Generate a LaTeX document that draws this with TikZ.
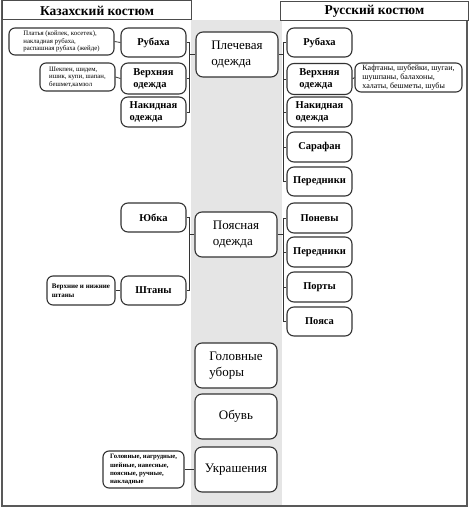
\documentclass[tikz,border=0pt]{standalone}
\usepackage{fontspec}
\setmainfont{Liberation Serif}
\begin{document}
\begin{tikzpicture}[x=1pt,y=-1pt,
  frameline/.style={draw=black!65, line width=1.6pt},
  headbox/.style={draw=black!70, line width=1pt, fill=white},
  headtext/.style={font=\fontsize{13.5}{15}\selectfont\bfseries},
  box/.style={draw=black!80, line width=1.1pt, rounded corners=7pt, fill=white, align=left, inner sep=0pt},
  mainbox/.style={box, minimum width=82pt, minimum height=45pt, font=\fontsize{13}{16}\selectfont},
  subbox/.style={box, minimum width=65pt, font=\fontsize{10.5}{12}\selectfont\bfseries},
  descbox/.style={box, rounded corners=6pt},
  link/.style={draw=black!80, line width=0.8pt}
]
\useasboundingbox (0,0) rectangle (470,508);
% gray band
\fill[black!10] (191,20) rectangle (282,505);
% frame
\draw[frameline] (2,0) -- (2,506) -- (467,506) -- (467,20);
\node[headbox, minimum width=189pt, minimum height=19pt, anchor=north west, inner sep=0pt] (hk) at (2,0.5) {};
\node[headtext] (hkt) at (hk.center) {Казахский костюм};
\node[headbox, minimum width=188pt, minimum height=19pt, anchor=north west, inner sep=0pt] (hr) at (280,1) {};
\node[headtext] (hrt) at (hr.center) {Русский костюм};

% centre column
\node[mainbox] (cPl) at (237,54.5) {Плечевая\\одежда};
\node[mainbox] (cPo) at (236,234.5) {Поясная\\одежда};
\node[mainbox] (cGol) at (236,365.5) {Головные\\уборы};
\node[mainbox] (cOb) at (236,416.5) {Обувь};
\node[mainbox] (cUk) at (236,469.5) {Украшения};

% Kazakh side
\node[subbox, minimum height=29pt] (kRub) at (153.5,42.5) {Рубаха};
\node[subbox, minimum height=31pt] (kVerh) at (153.5,78.5) {Верхняя\\одежда};
\node[subbox, minimum height=30pt] (kNak) at (153.5,112) {Накидная\\одежда};
\node[subbox, minimum height=29pt] (kYub) at (153.5,217.5) {Юбка};
\node[subbox, minimum height=29pt] (kSht) at (153.5,290.5) {Штаны};

\node[descbox, minimum width=105pt, minimum height=27pt, font=\fontsize{6.8}{7.6}\selectfont] (dRub) at (61.5,41.5)
  {Платья (койлек, косетек),\\накладная рубаха,\\распашная рубаха (жейде)};
\node[descbox, minimum width=75pt, minimum height=28pt, font=\fontsize{6.8}{7.6}\selectfont] (dVerh) at (77.5,77)
  {Шекпен, шидем,\\ишик, купи, шапан,\\бешмет,камзол};
\node[descbox, minimum width=68pt, minimum height=29pt, font=\fontsize{7}{9}\selectfont\bfseries] (dSht) at (81,290.5)
  {Верхние и нижние\\штаны};
\node[descbox, minimum width=81pt, minimum height=37pt, font=\fontsize{6.7}{8.2}\selectfont\bfseries] (dUk) at (143.5,469.5)
  {Головные, нагрудные,\\шейные, навесные,\\поясные, ручные,\\накладные};

% Russian side
\node[subbox, minimum height=29pt] (rRub) at (319.5,42.5) {Рубаха};
\node[subbox, minimum height=31pt] (rVerh) at (319.5,79) {Верхняя\\одежда};
\node[subbox, minimum height=30pt] (rNak) at (319.5,112) {Накидная\\одежда};
\node[subbox, minimum height=30pt] (rSar) at (319.5,147) {Сарафан};
\node[subbox, minimum height=29pt] (rPer) at (319.5,181.5) {Передники};
\node[subbox, minimum height=30pt] (rPon) at (319.5,218) {Поневы};
\node[subbox, minimum height=30pt] (rPer2) at (319.5,252) {Передники};
\node[subbox, minimum height=30pt] (rPort) at (319.5,287) {Порты};
\node[subbox, minimum height=29pt] (rPoy) at (319.5,321.5) {Пояса};
\node[descbox, minimum width=107pt, minimum height=29pt, font=\fontsize{8}{9.3}\selectfont] (dR) at (408.5,77.5)
  {Кафтаны, шубейки, шугаи,\\шушпаны, балахоны,\\халаты, бешметы, шубы};

% bracket coordinates
\coordinate (kb) at (189.5,0);
\coordinate (rb) at (283.5,0);

% Kazakh connectors
\draw[link] (kRub.east) -- (kRub.east -| kb) -- (kNak.east -| kb) -- (kNak.east);
\draw[link] (kVerh.east) -- (kVerh.east -| kb);
\draw[link] (cPl.west -| kb) -- (cPl.west);
\draw[link] (kYub.east) -- (kYub.east -| kb) -- (kSht.east -| kb) -- (kSht.east);
\draw[link] (cPo.west -| kb) -- (cPo.west);
\draw[link] (dRub.east) -- (kRub.west);
\draw[link] (dVerh.east) -- (kVerh.west);
\draw[link] (dSht.east) -- (kSht.west);
\draw[link] (dUk.east) -- (cUk.west);

% Russian connectors
\draw[link] (rRub.west) -- (rRub.west -| rb) -- (rPer.west -| rb) -- (rPer.west);
\draw[link] (rVerh.west) -- (rVerh.west -| rb);
\draw[link] (rNak.west) -- (rNak.west -| rb);
\draw[link] (rSar.west) -- (rSar.west -| rb);
\draw[link] (cPl.east) -- (cPl.east -| rb);
\draw[link] (rPon.west) -- (rPon.west -| rb) -- (rPoy.west -| rb) -- (rPoy.west);
\draw[link] (rPer2.west) -- (rPer2.west -| rb);
\draw[link] (rPort.west) -- (rPort.west -| rb);
\draw[link] (cPo.east) -- (cPo.east -| rb);
\draw[link] (rVerh.east) -- (dR.west);
\end{tikzpicture}
\end{document}
